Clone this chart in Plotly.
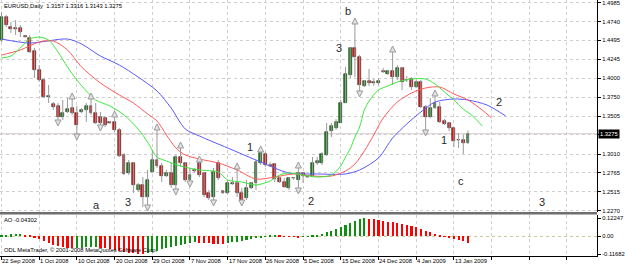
import plotly.graph_objects as go

# ---------------- data ----------------
dates = ["2008-09-22","2008-09-23","2008-09-24","2008-09-25","2008-09-26","2008-09-28","2008-09-29","2008-09-30",
         "2008-10-01","2008-10-02","2008-10-03","2008-10-05","2008-10-06","2008-10-07","2008-10-08","2008-10-09",
         "2008-10-10","2008-10-12","2008-10-13","2008-10-14","2008-10-15","2008-10-16","2008-10-17","2008-10-19",
         "2008-10-20","2008-10-21","2008-10-22","2008-10-23","2008-10-24","2008-10-26","2008-10-27","2008-10-28",
         "2008-10-29","2008-10-30","2008-10-31","2008-11-02","2008-11-03","2008-11-04","2008-11-05","2008-11-06",
         "2008-11-07","2008-11-09","2008-11-10","2008-11-11","2008-11-12","2008-11-13","2008-11-14","2008-11-16",
         "2008-11-17","2008-11-18","2008-11-19","2008-11-20","2008-11-21","2008-11-23","2008-11-24","2008-11-25",
         "2008-11-26","2008-11-27","2008-11-28","2008-11-30","2008-12-01","2008-12-02","2008-12-03","2008-12-04",
         "2008-12-05","2008-12-07","2008-12-08","2008-12-09","2008-12-10","2008-12-11","2008-12-12","2008-12-14",
         "2008-12-15","2008-12-16","2008-12-17","2008-12-18","2008-12-19","2008-12-21","2008-12-22","2008-12-23",
         "2008-12-24","2008-12-26","2008-12-28","2008-12-29","2008-12-30","2008-12-31","2009-01-01","2009-01-02",
         "2009-01-04","2009-01-05","2009-01-06","2009-01-07","2009-01-08","2009-01-09","2009-01-11","2009-01-12",
         "2009-01-13","2009-01-14","2009-01-15","2009-01-16"]

opens = [1.4498,1.4798,1.4668,1.4648,1.4655,1.4544,1.4524,1.4355,1.4107,1.3976,
         1.3755,1.3663,1.3637,1.3494,1.3559,1.3611,1.3546,1.3559,1.3585,1.3637,
         1.3546,1.3494,1.3480,1.3422,1.3428,1.3324,1.2998,1.2763,1.2893,1.2541,
         1.2606,1.2449,1.2776,1.2932,1.2854,1.2723,1.2763,1.2606,1.2971,1.2893,
         1.2671,1.2802,1.2893,1.2763,1.2502,1.2449,1.2893,1.2528,1.2502,1.2619,
         1.2632,1.2502,1.2436,1.2567,1.2632,1.2893,1.3011,1.2867,1.2880,1.2697,
         1.2645,1.2567,1.2697,1.2671,1.2763,1.2710,1.2723,1.2893,1.2893,1.2998,
         1.3311,1.3350,1.3415,1.3676,1.4042,1.4394,1.4276,1.3898,1.3963,1.3944,
         1.3937,1.4094,1.4055,1.4094,1.4015,1.4133,1.3976,1.3989,1.3885,1.3950,
         1.3624,1.3494,1.3611,1.3624,1.3441,1.3415,1.3350,1.3193,1.3193,1.3157]
highs = [1.4864,1.4824,1.4733,1.4759,1.4694,1.4550,1.4563,1.4394,1.4172,1.4002,
         1.3911,1.3689,1.3676,1.3715,1.3742,1.3755,1.3637,1.3611,1.3676,1.3755,
         1.3676,1.3559,1.3507,1.3441,1.3520,1.3350,1.3024,1.2932,1.2906,1.2632,
         1.2710,1.2802,1.3063,1.3350,1.2893,1.2802,1.2893,1.2998,1.3115,1.2906,
         1.2828,1.2828,1.2932,1.2776,1.2541,1.2828,1.2932,1.2541,1.2671,1.2710,
         1.2841,1.2567,1.2671,1.2645,1.2932,1.3063,1.3037,1.2906,1.2893,1.2710,
         1.2697,1.2710,1.2710,1.2854,1.2776,1.2723,1.2971,1.2971,1.3037,1.3415,
         1.3415,1.3467,1.3715,1.4146,1.4407,1.4733,1.4302,1.3976,1.4120,1.3989,
         1.4002,1.4133,1.4107,1.4368,1.4172,1.4146,1.4029,1.4015,1.3976,1.3976,
         1.3650,1.3742,1.3794,1.3689,1.3467,1.3428,1.3363,1.3285,1.3259,1.3316]
lows = [1.4472,1.4668,1.4590,1.4563,1.4537,1.4531,1.4329,1.4002,1.3950,1.3742,
        1.3676,1.3585,1.3428,1.3454,1.3546,1.3520,1.3245,1.3546,1.3428,1.3520,
        1.3402,1.3363,1.3363,1.3402,1.3298,1.2971,1.2737,1.2737,1.2502,1.2515,
        1.2319,1.2319,1.2763,1.2828,1.2645,1.2710,1.2567,1.2528,1.2841,1.2645,
        1.2632,1.2763,1.2710,1.2449,1.2410,1.2384,1.2671,1.2489,1.2489,1.2606,
        1.2449,1.2384,1.2410,1.2554,1.2541,1.2867,1.2841,1.2841,1.2645,1.2632,
        1.2567,1.2541,1.2671,1.2541,1.2632,1.2697,1.2710,1.2867,1.2867,1.2985,
        1.3232,1.3324,1.3415,1.3676,1.4002,1.4015,1.3807,1.3885,1.3898,1.3898,
        1.3911,1.4068,1.4042,1.3911,1.3976,1.3846,1.3950,1.3846,1.3872,1.3611,
        1.3298,1.3480,1.3598,1.3415,1.3389,1.3311,1.3102,1.3089,1.3011,1.3143]
closes = [1.4798,1.4694,1.4642,1.4642,1.4603,1.4537,1.4342,1.4107,1.3976,1.3755,
          1.3768,1.3624,1.3494,1.3546,1.3598,1.3546,1.3389,1.3585,1.3637,1.3546,
          1.3415,1.3415,1.3389,1.3415,1.3324,1.2985,1.2750,1.2893,1.2606,1.2606,
          1.2449,1.2671,1.2932,1.2854,1.2723,1.2763,1.2606,1.2971,1.2893,1.2671,
          1.2737,1.2795,1.2737,1.2475,1.2436,1.2776,1.2697,1.2502,1.2632,1.2632,
          1.2502,1.2410,1.2567,1.2632,1.2906,1.3024,1.2867,1.2860,1.2684,1.2645,
          1.2580,1.2697,1.2691,1.2763,1.2723,1.2704,1.2893,1.2919,1.3011,1.3298,
          1.3376,1.3428,1.3676,1.4055,1.4394,1.4276,1.3911,1.3963,1.3937,1.3937,
          1.3963,1.4087,1.4094,1.4015,1.4133,1.3950,1.3970,1.3885,1.3950,1.3624,
          1.3494,1.3611,1.3676,1.3428,1.3402,1.3350,1.3180,1.3187,1.3154,1.3275]

# Alligator lines (bar number, value); they run past the last bar
jaw_bars = [0,6,14,17,21,25,29,33,36,39,42,48,54,61,67,73,76,80,83,86,89,92,96,99,103,107]
jaw_vals = [1.4511,1.4459,1.4511,1.4446,1.4289,1.4172,1.4015,1.3833,1.3611,1.3337,1.3245,1.3089,1.2932,
            1.2763,1.2750,1.2750,1.2802,1.2958,1.3219,1.3402,1.3559,1.3689,1.3728,1.3715,1.3650,1.3506]
teeth_bars = [0,4,8,11,14,17,21,25,28,31,33,35,37,39,42,46,50,54,58,62,66,70,73,75,77,79,81,84,87,90,93,96,99,102,104]
teeth_vals = [1.4302,1.4368,1.4472,1.4485,1.4368,1.4146,1.3937,1.3781,1.3676,1.3533,1.3441,1.3259,1.3089,1.2998,
              1.2945,1.2893,1.2802,1.2684,1.2710,1.2750,1.2723,1.2723,1.2789,1.2880,1.3050,1.3259,1.3480,
              1.3689,1.3807,1.3872,1.3885,1.3794,1.3715,1.3585,1.3480]
lips_bars = [0,2,4,6,8,10,12,14,16,18,20,23,26,29,31,33,35,38,42,46,48,51,54,57,59,61,64,67,70,72,73,74,75,76,77,78,
             80,82,84,87,90,92,94,96,98,100,102]
lips_vals = [1.4263,1.4289,1.4394,1.4511,1.4537,1.4498,1.4342,1.4146,1.3976,1.3833,1.3715,1.3637,1.3520,1.3337,
             1.3167,1.2971,1.2919,1.2854,1.2802,1.2776,1.2671,1.2645,1.2606,1.2658,1.2736,1.2763,1.2736,1.2710,
             1.2736,1.2854,1.2971,1.3076,1.3232,1.3363,1.3585,1.3702,1.3846,1.3898,1.3950,1.3989,1.3989,1.3924,
             1.3820,1.3715,1.3598,1.3506,1.3376]

ao_vals = [0.008,0.010,0.013,0.015,0.016,0.012,0.004,-0.006,-0.018,-0.032,
           -0.046,-0.057,-0.066,-0.071,-0.074,-0.076,-0.075,-0.074,-0.073,-0.072,
           -0.071,-0.075,-0.080,-0.085,-0.090,-0.096,-0.102,-0.107,-0.111,-0.114,
           -0.1168,-0.110,-0.102,-0.094,-0.086,-0.078,-0.070,-0.062,-0.055,-0.049,
           -0.044,-0.040,-0.042,-0.044,-0.046,-0.047,-0.048,-0.049,-0.045,-0.040,
           -0.034,-0.028,-0.022,-0.016,-0.010,-0.004,0.001,0.004,0.006,0.004,
           0.002,-0.001,-0.003,-0.004,-0.002,0.002,0.006,0.012,0.019,0.028,
           0.038,0.049,0.061,0.074,0.088,0.102,0.113,0.1225,0.119,0.114,
           0.109,0.104,0.099,0.094,0.089,0.084,0.077,0.068,0.061,0.050,
           0.039,0.028,0.017,0.006,-0.002,-0.008,-0.015,-0.024,-0.033,-0.043]

up_fractal_bars = [15,19,24,33,38,42,50,55,63,75,83,92]
down_fractal_bars = [12,16,21,31,37,40,45,51,63,76,90]

tick_bars = [0,8,16,24,32,40,48,56,64,72,80,88,96]
tick_labels = ["22 Sep 2008","1 Oct 2008","10 Oct 2008","20 Oct 2008","29 Oct 2008","7 Nov 2008",
               "17 Nov 2008","26 Nov 2008","5 Dec 2008","15 Dec 2008","24 Dec 2008","4 Jan 2009","13 Jan 2009"]
grid_bars = [0,8,16,24,32,40,48,56,64,72,80,88,96,104,112,120]

price_ticks = [1.4985,1.4740,1.4495,1.4245,1.4000,1.3750,1.3505,1.3260,1.3010,1.2765,1.2515,1.2270]
price_tick_text = ["1.4985","1.4740","1.4495","1.4245","1.4000","1.3750","1.3505","","1.3010","1.2765","1.2515","1.2270"]
ao_ticks = [0.12247,0.0,-0.11682]
ao_tick_text = ["0.12247","0.00","-0.11682"]

wave_labels = [("a",20.1,1.2345),("3",26.8,1.2384),("1",52.8,1.3102),("2",65.6,1.2397),("3",71.7,1.4394),
               ("b",73.6,1.4877),("1",93.8,1.3193),("c",97.6,1.2658),("2",105.6,1.3689),("3",114.6,1.2384)]

last_price = 1.3275
header = "EURUSD,Daily  1.3157 1.3316 1.3143 1.3275"

# ---------------- figure ----------------
FONT = "Liberation Sans"
FS = 5.8
idx = list(range(len(dates)))
UP, DN = "#0f8f0f", "#f01010"

fig = go.Figure()

# wicks
wx, wy = [], []
for i in idx:
    wx += [i, i, None]
    wy += [lows[i], highs[i], None]
fig.add_trace(go.Scatter(x=wx, y=wy, mode="lines", line=dict(color="#9a9a9a", width=1),
                         hoverinfo="skip", showlegend=False, xaxis="x", yaxis="y"))

# bodies
base = [min(o, c) for o, c in zip(opens, closes)]
height = [max(abs(c - o), 0.0008) for o, c in zip(opens, closes)]
colors = [UP if c >= o else DN for o, c in zip(opens, closes)]
fig.add_trace(go.Bar(x=idx, y=height, base=base, width=0.62,
                     marker=dict(color=colors, line=dict(color="#262626", width=0.6)),
                     showlegend=False, hovertext=dates, xaxis="x", yaxis="y"))

# alligator
for bars, vals, col in [(jaw_bars, jaw_vals, "#5a5aff"), (teeth_bars, teeth_vals, "#ff5a5a"),
                        (lips_bars, lips_vals, "#3ee63e")]:
    fig.add_trace(go.Scatter(x=bars, y=vals, mode="lines", line=dict(color=col, width=1, shape="spline", smoothing=0.8),
                             showlegend=False, xaxis="x", yaxis="y"))

# fractals
off = 0.0052
fig.add_trace(go.Scatter(x=up_fractal_bars, y=[highs[i] + off for i in up_fractal_bars], mode="markers",
                         marker=dict(symbol="arrow-up", size=6, color="#e2e2e2", line=dict(color="#9a9a9a", width=1)),
                         showlegend=False, xaxis="x", yaxis="y"))
fig.add_trace(go.Scatter(x=down_fractal_bars, y=[lows[i] - off for i in down_fractal_bars], mode="markers",
                         marker=dict(symbol="arrow-down", size=6, color="#e2e2e2", line=dict(color="#9a9a9a", width=1)),
                         showlegend=False, xaxis="x", yaxis="y"))

# AO histogram
ao_cols = [UP if (i == 0 or ao_vals[i] >= ao_vals[i - 1]) else "#ff0000" for i in range(len(ao_vals))]
fig.add_trace(go.Bar(x=idx, y=ao_vals, width=0.45, marker=dict(color=ao_cols, line=dict(width=0)),
                     showlegend=False, xaxis="x2", yaxis="y2"))

H_PLOT = 256.0
def py(Y):
    return (H_PLOT - Y) / H_PLOT

xr = [-0.315, 126.37]
gridc = "#cfcfcf"
fig.update_layout(
    width=625, height=266,
    margin=dict(l=0, r=22, t=0, b=10),
    paper_bgcolor="white", plot_bgcolor="white",
    bargap=0, barmode="overlay",
    font=dict(family=FONT, size=FS, color="black"),
    xaxis=dict(domain=[0, 1], range=xr, anchor="y", tickvals=grid_bars, showticklabels=False,
               showgrid=True, gridcolor=gridc, griddash="dot", gridwidth=1, zeroline=False,
               showline=False, ticks=""),
    yaxis=dict(domain=[py(212), 1], range=[1.22536, 1.50202], side="right", anchor="x",
               tickvals=price_ticks, ticktext=price_tick_text, showgrid=True, gridcolor=gridc,
               griddash="dot", gridwidth=1, zeroline=False, showline=True, linecolor="black",
               linewidth=1, ticks="outside", ticklen=3, tickcolor="black",
               ticklabeloverflow="allow", tickfont=dict(family=FONT, size=FS)),
    xaxis2=dict(domain=[0, 1], range=xr, anchor="y2", matches="x", tickvals=grid_bars,
                showticklabels=False, showgrid=True, gridcolor=gridc, griddash="dot",
                zeroline=False, showline=True, linecolor="black", linewidth=1,
                ticks="outside", ticklen=3, tickcolor="black"),
    yaxis2=dict(domain=[0, py(215)], range=[-0.1301, 0.1424], side="right", anchor="x2",
                tickvals=ao_ticks, ticktext=ao_tick_text, showgrid=False, zeroline=False,
                showline=True, linecolor="black", linewidth=1, ticks="outside", ticklen=3,
                tickcolor="black", ticklabeloverflow="allow", tickfont=dict(family=FONT, size=FS)),
)

shapes = [
    dict(type="rect", xref="paper", yref="paper", x0=0, x1=1, y0=py(214.5), y1=py(212),
         fillcolor="#6e6e6e", line=dict(width=0), layer="above"),
    dict(type="line", xref="paper", yref="y", x0=0, x1=1, y0=last_price, y1=last_price,
         line=dict(color="#d9c9c9", width=1), layer="below"),
    dict(type="line", xref="paper", yref="y2", x0=0, x1=1, y0=0, y1=0,
         line=dict(color="#c8c890", width=1, dash="dot"), layer="below"),
]
fig.update_layout(shapes=shapes)

ann = []
ann.append(dict(text=header, x=0.004, y=py(6), xref="paper", yref="paper", xanchor="left", yanchor="middle",
                showarrow=False, font=dict(family=FONT, size=FS, color="black")))
ann.append(dict(text="AO -0.04302", x=0.004, y=py(220), xref="paper", yref="paper", xanchor="left",
                yanchor="middle", showarrow=False, font=dict(family=FONT, size=FS, color="black")))
ann.append(dict(text="ODL MetaTrader, © 2001-2008 MetaQuotes Software Corp.", x=0.004, y=py(250),
                xref="paper", yref="paper", xanchor="left", yanchor="middle", showarrow=False,
                font=dict(family=FONT, size=FS, color="black")))
for b, t in zip(tick_bars, tick_labels):
    ann.append(dict(text=t, x=b, y=py(260.5), xref="x2", yref="paper", xanchor="left", yanchor="middle",
                    showarrow=False, xshift=-1, font=dict(family=FONT, size=FS, color="black")))
for t, b, p in wave_labels:
    ann.append(dict(text=t, x=b, y=p, xref="x", yref="y", showarrow=False,
                    font=dict(family=FONT, size=11, color="#2a2a2a")))
ann.append(dict(text=f"{last_price:.4f}", x=1.0, y=last_price, xref="paper", yref="y", xanchor="left",
                yanchor="middle", showarrow=False, bgcolor="black", borderpad=1, xshift=1,
                font=dict(family=FONT, size=FS, color="white")))
fig.update_layout(annotations=ann)

fig.write_html("out.html")
